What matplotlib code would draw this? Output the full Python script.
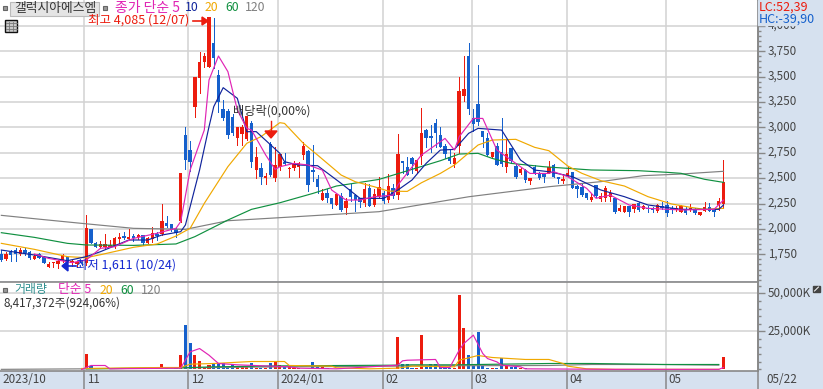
import matplotlib
matplotlib.use('Agg')
import matplotlib.pyplot as plt
from matplotlib.patches import Rectangle, Polygon
from matplotlib.ticker import FixedLocator, MultipleLocator
from matplotlib.transforms import ScaledTranslation

plt.rcParams['font.family'] = ['Noto Sans CJK KR', 'DejaVu Sans']

opens = [1753, 1700, 1769, 1792, 1753, 1792, 1776, 1707, 1750, 1720,
         1628, 1661, 1654, 1684, 1720, 1668, 1651, 1684, 1661, 1996,
         1865, 1825, 1825, 1825, 1825, 1904, 1930, 1904, 1930, 1924,
         1937, 1865, 1898, 1950, 1950, 2055, 2045, 1996, 2081, 2926,
         2778, 3205, 3491, 3645, 3599, 3835, 3517, 3179, 3162, 3106,
         2893, 2940, 2885, 3040, 2581, 2604, 2499, 2837, 2499, 2613,
         2662, 2587, 2597, 2613, 2728, 2771, 2580, 2492, 2285, 2357,
         2301, 2235, 2324, 2203, 2390, 2334, 2301, 2252, 2400, 2235,
         2317, 2357, 2285, 2400, 2334, 2672, 2613, 2702, 2567, 2718,
         2974, 2915, 3040, 2922, 2817, 2712, 2639, 2817, 3313, 3704,
         3089, 3231, 2965, 2892, 2705, 2817, 2761, 2613, 2794, 2620,
         2547, 2580, 2475, 2607, 2554, 2547, 2554, 2630, 2515, 2472,
         2525, 2561, 2423, 2410, 2351, 2285, 2433, 2298, 2302, 2318,
         2302, 2180, 2170, 2226, 2193, 2259, 2200, 2209, 2209, 2180,
         2226, 2236, 2209, 2187, 2170, 2193, 2187, 2193, 2137, 2177,
         2213, 2187, 2233, 2242]
closes = [1694, 1753, 1743, 1753, 1792, 1766, 1717, 1737, 1717, 1668,
          1651, 1677, 1684, 1743, 1677, 1684, 1671, 1664, 2009, 1865,
          1825, 1852, 1852, 1845, 1914, 1924, 1907, 1924, 1914, 1937,
          1858, 1907, 1957, 1930, 2078, 2032, 1990, 1963, 2551, 2679,
          2663, 3494, 3645, 3704, 4085, 3681, 3254, 3090, 2930, 2950,
          3007, 3000, 3110, 2663, 2712, 2515, 2522, 2531, 2630, 2738,
          2639, 2603, 2646, 2646, 2817, 2432, 2557, 2410, 2357, 2301,
          2245, 2344, 2186, 2275, 2317, 2285, 2262, 2390, 2229, 2344,
          2410, 2278, 2423, 2327, 2738, 2653, 2528, 2639, 2679, 2948,
          2892, 2899, 2942, 2810, 2738, 2672, 2695, 3359, 3375, 3181,
          3030, 3057, 2909, 2728, 2761, 2630, 2636, 2738, 2672, 2508,
          2590, 2482, 2505, 2547, 2498, 2508, 2613, 2515, 2489, 2492,
          2555, 2407, 2390, 2334, 2302, 2311, 2325, 2325, 2400, 2351,
          2170, 2203, 2226, 2170, 2246, 2187, 2226, 2193, 2187, 2236,
          2203, 2154, 2193, 2203, 2226, 2160, 2200, 2160, 2170, 2213,
          2180, 2170, 2279, 2459]
highs = [1792, 1776, 1792, 1809, 1809, 1809, 1786, 1753, 1760, 1733,
         1677, 1677, 1694, 1753, 1727, 1694, 1687, 1694, 2137, 1996,
         1871, 1884, 1950, 1891, 1924, 1963, 1973, 1996, 1950, 1950,
         1943, 1917, 2022, 1973, 2246, 2127, 2045, 2006, 2551, 3004,
         2867, 3494, 3744, 3737, 4085, 4075, 3566, 3270, 3180, 3130,
         3007, 3020, 3110, 3060, 2810, 2653, 2555, 2860, 2810, 2738,
         2751, 2613, 2672, 2662, 2860, 2777, 2827, 2531, 2396, 2390,
         2301, 2344, 2350, 2301, 2442, 2344, 2301, 2455, 2442, 2390,
         2515, 2377, 2541, 2442, 2935, 2672, 2705, 2705, 2679, 3188,
         2981, 3024, 3080, 3001, 2837, 2777, 2745, 3500, 3704, 3829,
         3178, 3615, 2965, 2942, 2761, 2843, 3089, 2883, 2794, 2646,
         2597, 2587, 2505, 2630, 2564, 2554, 2672, 2640, 2515, 2541,
         2607, 2561, 2433, 2449, 2357, 2351, 2433, 2351, 2423, 2384,
         2302, 2236, 2226, 2226, 2246, 2269, 2236, 2226, 2219, 2246,
         2269, 2279, 2226, 2226, 2236, 2219, 2246, 2203, 2170, 2269,
         2259, 2187, 2302, 2679]
lows = [1687, 1694, 1687, 1687, 1743, 1743, 1700, 1700, 1710, 1661,
        1628, 1628, 1611, 1671, 1661, 1635, 1628, 1645, 1645, 1858,
        1819, 1812, 1812, 1819, 1809, 1858, 1898, 1898, 1884, 1904,
        1842, 1858, 1875, 1891, 1940, 2022, 1983, 1924, 2072, 2587,
        2574, 3100, 3343, 3599, 3599, 3583, 3156, 3073, 2900, 2930,
        2827, 2830, 2875, 2613, 2500, 2440, 2440, 2520, 2476, 2580,
        2630, 2515, 2580, 2515, 2685, 2377, 2475, 2350, 2285, 2268,
        2203, 2235, 2180, 2147, 2278, 2180, 2219, 2229, 2229, 2229,
        2301, 2252, 2268, 2301, 2291, 2547, 2528, 2547, 2554, 2639,
        2804, 2761, 2804, 2804, 2695, 2653, 2613, 2751, 3264, 3132,
        2961, 3024, 2804, 2718, 2695, 2630, 2620, 2564, 2662, 2498,
        2541, 2465, 2442, 2541, 2488, 2465, 2547, 2509, 2449, 2456,
        2522, 2400, 2318, 2328, 2292, 2279, 2318, 2279, 2279, 2279,
        2160, 2180, 2170, 2127, 2170, 2177, 2193, 2170, 2164, 2170,
        2193, 2127, 2160, 2180, 2164, 2147, 2180, 2147, 2137, 2177,
        2177, 2127, 2187, 2203]
volumes = [200, 180, 210, 250, 160, 170, 190, 150, 140, 220,
           170, 130, 260, 210, 160, 120, 140, 180, 10100, 2200,
           900, 650, 1300, 650, 500, 400, 300, 350, 300, 300,
           400, 450, 600, 450, 3500, 900, 650, 1300, 9400, 29200,
           17300, 9400, 5500, 1100, 2850, 3500, 4200, 4200, 1300, 3300,
           2600, 2600, 1750, 4200, 1300, 1300, 1300, 4200, 5000, 2800,
           1750, 2200, 900, 900, 650, 650, 4800, 1750, 1750, 900,
           650, 650, 450, 500, 450, 600, 400, 500, 450, 600,
           500, 450, 900, 500, 21300, 3500, 3500, 1300, 1100, 22600,
           1750, 3300, 3300, 1750, 900, 900, 900, 48900, 27200, 9400,
           2200, 24600, 2200, 1300, 900, 1300, 7700, 2400, 1750, 1750,
           900, 1300, 600, 500, 450, 400, 500, 350, 300, 300,
           350, 450, 300, 250, 300, 250, 300, 200, 350, 250,
           300, 200, 250, 200, 250, 300, 200, 250, 200, 300,
           600, 250, 200, 200, 250, 200, 150, 200, 150, 200,
           200, 150, 350, 8417]

ma5_x = [7, 10, 15, 18, 21, 24, 28, 33, 37, 38, 40, 43, 44, 46, 48, 50, 52, 53, 56, 58,
         59, 62, 65, 68, 70, 73, 76, 79, 83, 84, 89, 94, 96, 97, 100, 102, 105, 108, 112, 116,
         117, 120, 124, 126, 129, 133, 137, 144, 151, 153]
ma5_y = [1753, 1710, 1668, 1694, 1809, 1825, 1907, 1957, 2006, 2072, 2581, 2975, 3468, 3704, 3550, 3172, 2991, 2975, 2729, 2587,
         2613, 2646, 2630, 2580, 2383, 2285, 2285, 2317, 2334, 2432, 2728, 2892, 2777, 2909, 3089, 3089, 2777, 2679, 2547, 2547,
         2564, 2515, 2400, 2302, 2334, 2236, 2203, 2187, 2193, 2285]
ma10_x = [0, 7, 14, 18, 21, 27, 31, 34, 38, 39, 42, 44, 45, 47, 50, 52, 54, 59,
          60, 63, 67, 72, 76, 81, 84, 87, 90, 93, 96, 99, 101, 106, 110, 113, 116,
          121, 127, 132, 137, 144, 152, 153]
ma10_y = [1792, 1743, 1687, 1727, 1776, 1891, 1891, 1940, 1973, 2039, 2581, 3008, 3205, 3392, 3287, 2958, 2959, 2745,
          2662, 2630, 2623, 2449, 2301, 2301, 2383, 2482, 2646, 2777, 2784, 2942, 2991, 2974, 2679, 2580, 2564,
          2515, 2384, 2318, 2236, 2193, 2193, 2236]
ma20_x = [0, 7, 14, 18, 21, 28, 33, 37, 40, 43, 48, 52, 55, 59, 60, 64, 67, 72, 75, 79, 82, 86, 89,
          93, 96, 101, 104, 109, 113, 116, 120, 123, 127, 132, 137, 142, 146, 149, 153]
ma20_y = [1858, 1799, 1727, 1717, 1746, 1819, 1852, 1930, 2006, 2252, 2614, 2844, 2909, 3047, 3040, 2843, 2728, 2531, 2465, 2416, 2373, 2370, 2455,
          2547, 2630, 2827, 2876, 2883, 2804, 2771, 2620, 2548, 2476, 2423, 2318, 2246, 2213, 2193, 2203]
ma60_x = [0, 7, 14, 18, 28, 37, 41, 48, 53, 59, 66, 71, 80, 87, 93, 97, 101, 104, 108, 115,
          125, 135, 141, 144, 149, 153]
ma60_y = [1963, 1917, 1858, 1842, 1838, 1852, 1924, 2088, 2193, 2258, 2350, 2423, 2488, 2587, 2672, 2738, 2745, 2695, 2646, 2613,
          2581, 2574, 2558, 2548, 2489, 2459]
ma120_x = [0, 7, 17, 28, 39, 48, 59, 80, 99, 116, 127, 136, 144, 153]
ma120_y = [2134, 2101, 2055, 2006, 1996, 2081, 2111, 2170, 2317, 2416, 2466, 2525, 2541, 2568]

vma5_x = [17, 19, 22, 23, 38, 40, 42, 44, 46, 50, 61, 63, 71, 84, 85, 86, 92, 93, 95, 97, 98, 100, 102, 103, 105, 106, 110, 111, 130, 152, 153]
vma5_y = [0, 2630, 2630, 440, 880, 11600, 13800, 9400, 3950, 3070, 1750, 880, 440, 2850, 5700, 6100, 6600, 1300, 1300, 12700, 17100, 22600, 10500, 7200, 5000, 2850, 1750, 440, 100, 100, 1300]
vma20_x = [17, 34, 38, 40, 45, 53, 60, 61, 70, 71, 78, 84, 87, 96, 97, 101, 104, 111, 116, 119, 120, 124, 130, 152]
vma20_y = [660, 1300, 1300, 3500, 3950, 5260, 5260, 2630, 2200, 1100, 440, 880, 2200, 1750, 6100, 9200, 7900, 6600, 6600, 3950, 2200, 440, 100, 100]
vma60_x = [18, 38, 45, 60, 84, 87, 96, 116, 125, 140, 150, 152]
vma60_y = [440, 1100, 1750, 2400, 2850, 3070, 3070, 3950, 3950, 3290, 3290, 3290]
vma120_x = [0, 18, 45, 60, 84, 87, 116, 125, 140, 152]
vma120_y = [100, 440, 1300, 1750, 2200, 2400, 2630, 3290, 3290, 2850]

month_pos = [17.6, 39.55, 58.6, 80.8, 99.7, 119.8, 140.75]
month_labels = ['11', '12', '2024/01', '02', '03', '04', '05']
price_ticks = [1750, 2000, 2250, 2500, 2750, 3000, 3250, 3500, 3750, 4000]
vol_ticks = [25000, 50000]

RED = '#EC1C0E'
BLUE = '#1560CC'
MAGENTA = '#E024B4'
NAVY = '#10249C'
ORANGE = '#F0A800'
GREEN = '#109040'
GRAY = '#808080'
BAND = '#D6E1EF'
GRID = '#D2D2D2'
TEXT = '#444444'
W, H = 823, 389
LINE = 0.85

fig = plt.figure(figsize=(W / 100, H / 100), dpi=100, facecolor=BAND)
ax = fig.add_axes([0, (H - 281) / H, 758 / W, 281 / H])
axv = fig.add_axes([0, (H - 371) / H, 758 / W, 89 / H])
xlim = (-0.284, 160.31)


def style_axis(a):
    a.set_xlim(xlim)
    a.set_xticks([])
    a.yaxis.tick_right()
    a.tick_params(axis='y', which='major', length=5, width=1, color='#888888', labelcolor=TEXT, labelsize=8.4, pad=2)
    a.tick_params(axis='y', which='minor', length=2.5, width=1, color='#888888')
    for s in a.spines.values():
        s.set_visible(False)
    a.spines['right'].set_visible(True)
    a.spines['right'].set_color('#888888')
    a.spines['right'].set_linewidth(1.4)
    a.set_axisbelow(True)
    a.grid(axis='y', which='major', color=GRID, lw=1.1)
    for m in month_pos:
        a.axvline(m, color=GRID, lw=1.1, zorder=0)


def lift_labels(a):
    # the CJK font sits low in its line box
    for t in a.get_yticklabels():
        t.set_transform(t.get_transform() + ScaledTranslation(0, 1.5 / 72, fig.dpi_scale_trans))


style_axis(ax)
ax.set_ylim(1487, 4256)
ax.yaxis.set_major_locator(FixedLocator(price_ticks))
ax.yaxis.set_minor_locator(MultipleLocator(50))
ax.set_yticklabels([f'{t:,}' for t in price_ticks])
lift_labels(ax)

xs = list(range(len(opens)))
cols = [RED if c >= o else BLUE for o, c in zip(opens, closes)]
ax.vlines(xs, lows, highs, colors=cols, lw=0.72, zorder=2, antialiased=False)
ax.bar(xs, [max(abs(c - o), 15) for o, c in zip(opens, closes)], bottom=[min(o, c) for o, c in zip(opens, closes)],
       width=0.72, color=cols, zorder=3, antialiased=False)
for lx, ly, c in [(ma120_x, ma120_y, GRAY), (ma60_x, ma60_y, GREEN), (ma20_x, ma20_y, ORANGE),
                  (ma10_x, ma10_y, NAVY), (ma5_x, ma5_y, MAGENTA)]:
    ax.plot(lx, ly, color=c, lw=LINE, zorder=4)

style_axis(axv)
axv.set_ylim(-990, 57565)
axv.yaxis.set_major_locator(FixedLocator(vol_ticks))
axv.yaxis.set_minor_locator(MultipleLocator(5000))
axv.set_yticklabels(['25,000K', '50,000K'])
lift_labels(axv)
axv.bar(xs, volumes, width=0.66, color=cols, zorder=3, antialiased=False)
for lx, ly, c in [(vma120_x, vma120_y, GRAY), (vma60_x, vma60_y, GREEN),
                  (vma20_x, vma20_y, ORANGE), (vma5_x, vma5_y, MAGENTA)]:
    axv.plot(lx, ly, color=c, lw=LINE, zorder=4)

# overlay in pixel coordinates for the labels and markers
ov = fig.add_axes([0, 0, 1, 1], zorder=10)
ov.set_xlim(0, W)
ov.set_ylim(H, 0)
ov.axis('off')
ov.patch.set_alpha(0)


def label(x, y, s, color=TEXT, size=8.4, **kw):
    ov.text(x, y, s, color=color, fontsize=size, va='center', ha='left', **kw)


ov.add_patch(Rectangle((758.5, 0), 65, 24.5, color=BAND, zorder=1))
ov.plot([0, 757], [281.5, 281.5], color='#888888', lw=1.2)
ov.plot([0, 758], [371, 371], color='#888888', lw=1.2)
for px in [84.5, 188, 278, 382.7, 472, 566.7, 665.7, 758]:
    ov.plot([px, px], [371, 389], color='#888888', lw=1.1)

# title row
ov.add_patch(Rectangle((3, 6), 4, 4, fc='#999999', ec='#666666', lw=0.8))
ov.add_patch(Rectangle((10.5, 2), 89, 14, fc='#E4E4E4', ec='#BBBBBB', lw=0.8))
label(14, 8, '갤럭시아에스엠', color='#333333', size=9.2)
ov.add_patch(Rectangle((103, 6), 4, 4, fc='#999999', ec='#666666', lw=0.8))
label(115, 7.5, '종가 단순 5', color=MAGENTA, size=10)
label(185, 7.5, '10', color=NAVY, size=8.8)
label(205, 7.5, '20', color=ORANGE, size=8.8)
label(225, 7.5, '60', color=GREEN, size=8.8)
label(245, 7.5, '120', color=GRAY, size=8.8)

ov.add_patch(Rectangle((5.5, 19.5), 12, 12.5, fc='#C8C8C8', ec='#111111', lw=1))
for gx in [9.5, 13.5]:
    ov.plot([gx, gx], [22, 31], color='#777777', lw=0.6)
for gy in [23, 26, 29]:
    ov.plot([6, 17], [gy, gy], color='#777777', lw=0.6)

label(88, 20, '최고 4,085 (12/07)', color=RED, size=9)
ov.plot([193, 203], [21, 21], color=RED, lw=1.2)
ov.add_patch(Polygon([(208, 21), (202, 17), (202, 25)], color=RED))
label(233, 111, '배당락(0,00%)', color='#333333', size=8.8)
ov.plot([271, 271], [121, 131], color=RED, lw=1)
ov.add_patch(Polygon([(265, 131), (277, 131), (271, 138)], color=RED))
label(76, 265, '최저 1,611 (10/24)', color='#1428D0', size=8.9)
ov.plot([66, 76], [266, 266], color='#1428D0', lw=1.2)
ov.add_patch(Polygon([(62, 266), (68, 261), (68, 271)], color='#1428D0'))

label(759, 7, 'LC:52,39', color=RED, size=9)
label(759, 19, 'HC:-39,90', color=BLUE, size=9)

# volume header
ov.add_patch(Rectangle((3, 288), 4, 4, fc='#999999', ec='#666666', lw=0.8))
label(14, 290, '거래량', color='#2E8F8F', size=8.6)
label(58, 290, '단순 5', color=MAGENTA, size=9.2)
label(100, 290, '20', color=ORANGE, size=8.8)
label(120, 290, '60', color=GREEN, size=8.8)
label(141, 290, '120', color=GRAY, size=8.8)
label(4, 303, '8,417,372주(924,06%)', color='#333333', size=8.4)
ov.add_patch(Rectangle((813, 286), 7, 6, color='#444444'))
ov.plot([814.5, 818.5], [291, 287], color='white', lw=0.7)

label(2, 379.5, '2023/10', color=TEXT, size=8.4)
for px, s in zip([87, 191, 280, 385, 474, 569, 668], month_labels):
    label(px, 379.5, s, color=TEXT, size=8.4)
label(766, 379.5, '05/22', color=TEXT, size=8.4)

fig.savefig('out.png', dpi=100, facecolor=BAND)
